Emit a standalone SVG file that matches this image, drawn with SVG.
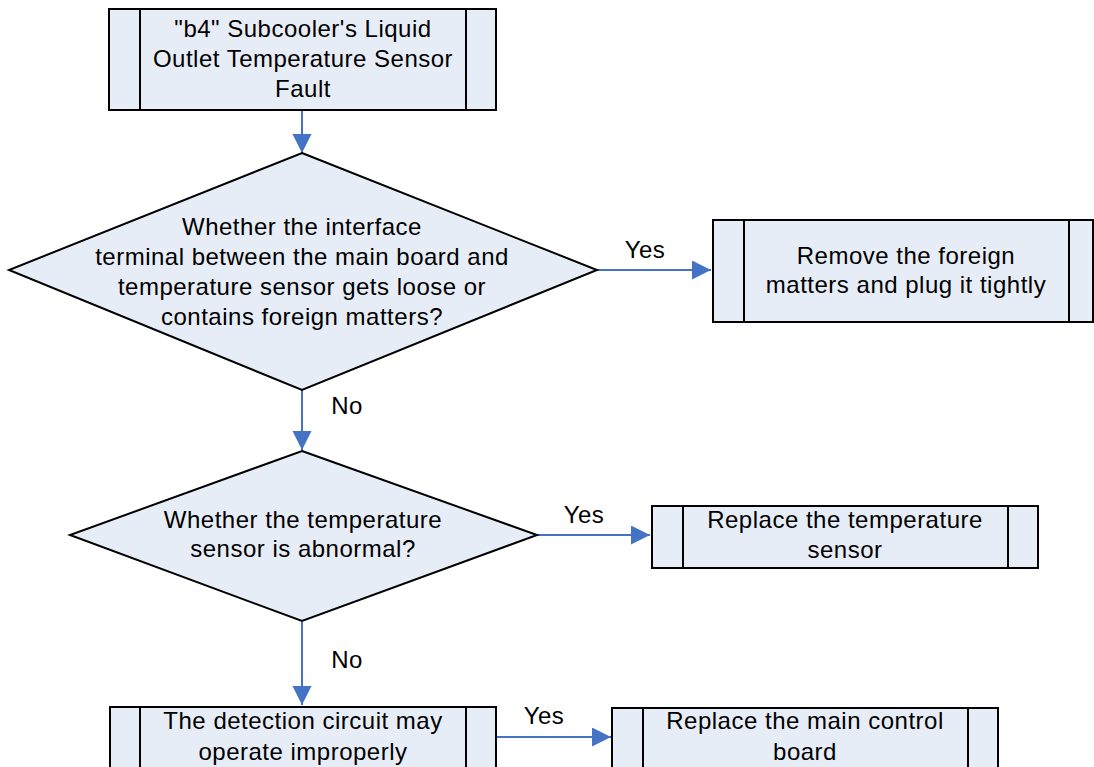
<svg xmlns="http://www.w3.org/2000/svg" width="1094" height="767" viewBox="0 0 1094 767">
<defs>
<style>
.box{fill:#E7EDF7;stroke:#000;stroke-width:2}
.ln{stroke:#000;stroke-width:2}
.t{font-family:"Liberation Sans",Arial,sans-serif;font-size:24px;fill:#000;text-anchor:middle;letter-spacing:0.5px}
.c{stroke:#4472C4;stroke-width:2;fill:none;marker-end:url(#ah)}
</style>
<marker id="ah" markerUnits="userSpaceOnUse" markerWidth="20" markerHeight="20" refX="19" refY="9.5" orient="auto">
<path d="M0,0 L19,9.5 L0,19 z" fill="#4472C4"/>
</marker>
</defs>
<rect width="1094" height="767" fill="#fff"/>
<g id="connectors">
<line class="c" x1="302" y1="111" x2="302" y2="153"/>
<line class="c" x1="597" y1="270" x2="711" y2="270"/>
<line class="c" x1="302" y1="390" x2="302" y2="450"/>
<line class="c" x1="537" y1="535" x2="650" y2="535"/>
<line class="c" x1="302" y1="622" x2="302" y2="705"/>
<line class="c" x1="496" y1="737" x2="611" y2="737"/>
<text class="t" x="645" y="258">Yes</text>
<text class="t" x="347" y="414">No</text>
<text class="t" x="584" y="523">Yes</text>
<text class="t" x="347" y="668">No</text>
<text class="t" x="544" y="724">Yes</text>
</g>
<g id="start">
<rect class="box" x="109" y="9" width="387" height="101"/>
<line class="ln" x1="140" y1="9" x2="140" y2="110"/>
<line class="ln" x1="466" y1="9" x2="466" y2="110"/>
<text class="t" x="303" y="37">"b4" Subcooler's Liquid</text>
<text class="t" x="303" y="67">Outlet Temperature Sensor</text>
<text class="t" x="303" y="97">Fault</text>
</g>
<g id="decision1">
<polygon class="box" points="302,153 597,270 302,390 9,270"/>
<text class="t" x="302" y="235">Whether the interface</text>
<text class="t" x="302" y="265">terminal between the main board and</text>
<text class="t" x="302" y="295">temperature sensor gets loose or</text>
<text class="t" x="302" y="325">contains foreign matters?</text>
</g>
<g id="action1">
<rect class="box" x="713" y="220" width="380" height="102"/>
<line class="ln" x1="744" y1="220" x2="744" y2="322"/>
<line class="ln" x1="1069" y1="220" x2="1069" y2="322"/>
<text class="t" x="906" y="264">Remove the foreign</text>
<text class="t" x="906" y="293">matters and plug it tightly</text>
</g>
<g id="decision2">
<polygon class="box" points="302,451 537,535 302,621 70,535"/>
<text class="t" x="303" y="528">Whether the temperature</text>
<text class="t" x="303" y="557">sensor is abnormal?</text>
</g>
<g id="action2">
<rect class="box" x="652" y="506" width="386" height="62"/>
<line class="ln" x1="683" y1="506" x2="683" y2="568"/>
<line class="ln" x1="1008" y1="506" x2="1008" y2="568"/>
<text class="t" x="845" y="528">Replace the temperature</text>
<text class="t" x="845" y="558">sensor</text>
</g>
<g id="action3">
<rect class="box" x="110" y="707" width="386" height="70"/>
<line class="ln" x1="140" y1="707" x2="140" y2="777"/>
<line class="ln" x1="466" y1="707" x2="466" y2="777"/>
<text class="t" x="303" y="729">The detection circuit may</text>
<text class="t" x="303" y="760">operate improperly</text>
</g>
<g id="action4">
<rect class="box" x="612" y="708" width="386" height="70"/>
<line class="ln" x1="643" y1="708" x2="643" y2="778"/>
<line class="ln" x1="968" y1="708" x2="968" y2="778"/>
<text class="t" x="805" y="729">Replace the main control</text>
<text class="t" x="805" y="760">board</text>
</g>
</svg>
